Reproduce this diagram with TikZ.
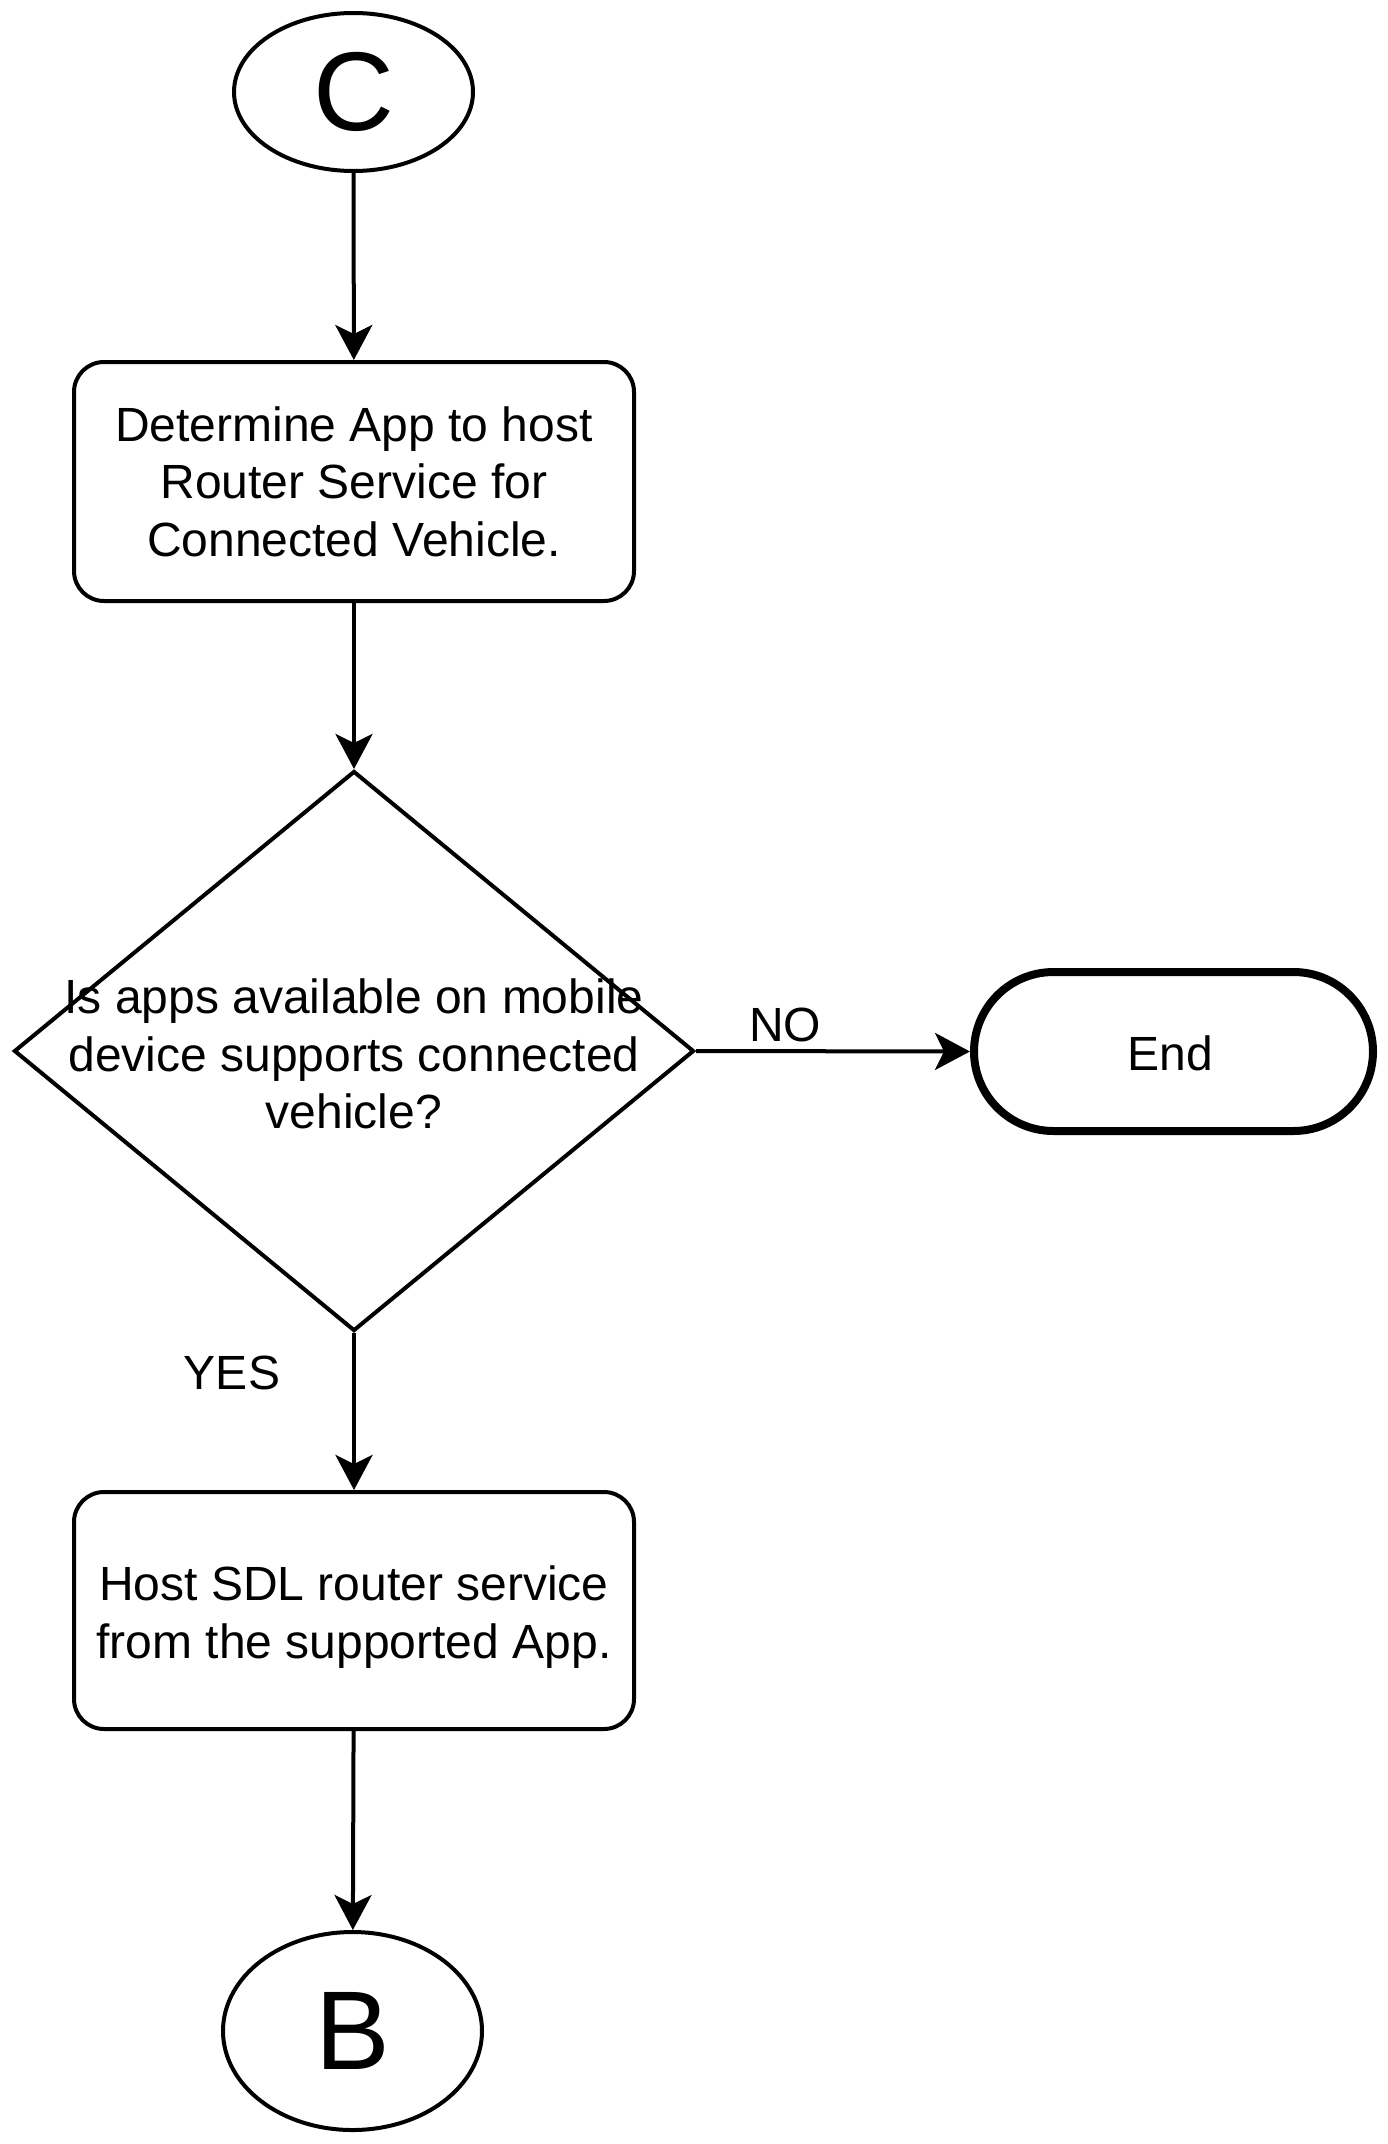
\documentclass[tikz,border=0pt]{standalone}
\usepackage{fontspec}
\setmainfont{Liberation Sans}
\usetikzlibrary{shapes.geometric,arrows.meta}
\begin{document}
\begin{tikzpicture}[x=1pt,y=-1pt,
  every node/.style={inner sep=0pt},
  base/.style={draw=black,line width=4pt,fill=white},
  txt/.style={font=\fontsize{48}{57.6}\selectfont,align=center},
  conn/.style={ellipse,base,font=\fontsize{112}{130}\selectfont},
  procbox/.style={rectangle,base,rounded corners=30pt,minimum width=560pt,txt},
  decision/.style={diamond,base,minimum width=680pt,minimum height=560pt},
  term/.style={rectangle,draw=black,line width=8pt,fill=white,rounded corners=79.5pt,minimum width=399pt,minimum height=159pt,txt},
  flow/.style={draw=black,line width=4pt,-{Stealth[length=35pt,width=37pt,inset=9pt]}},
  lbl/.style={txt}
]
\useasboundingbox (0,0) rectangle (1388,2144);
\node[conn,minimum width=239pt,minimum height=158pt] (c) at (353.5,92) {C};
\node[procbox,minimum height=239pt] (b1) at (354,481.5) {Determine App to host\\Router Service for\\Connected Vehicle.};
\node[decision] (dia) at (354,1051) {};
\node[txt] (dtext) at (354,1054) {Is apps available on mobile\\device supports connected\\vehicle?};
\node[term] (end) at (1173.5,1051.5) {};
\node[txt] (endtext) at (1170,1053) {End};
\node[procbox,minimum height=237pt] (b2) at (354,1610.5) {};
\node[txt] (b2text) at (354,1617) {Host SDL router service\\from the supported App.};
\node[conn,minimum width=259pt,minimum height=198pt] (b) at (352.5,2031) {B};
\draw[flow] (c) -- (b1);
\draw[flow] (b1) -- (dia);
\draw[flow] (dia.east) -- (end.west);
\draw[flow] (dia) -- (b2);
\draw[flow] (b2) -- (b);
\node[lbl] (no) at (785,1025) {NO};
\node[lbl] (yes) at (232,1373) {YES};
\end{tikzpicture}
\end{document}
